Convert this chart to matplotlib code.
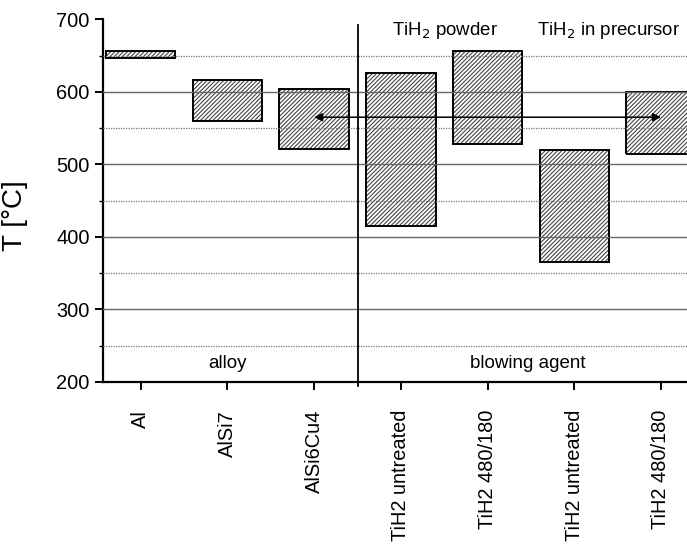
import matplotlib.pyplot as plt
from matplotlib.ticker import MultipleLocator

plt.rcParams['font.family'] = ['Liberation Sans', 'DejaVu Sans']
plt.rcParams['hatch.linewidth'] = 0.8

# temperature windows (lower / upper bound) for each material, in deg C
labels = ['Al', 'AlSi7', 'AlSi6Cu4', 'TiH2 untreated', 'TiH2 480/180',
          'TiH2 untreated', 'TiH2 480/180']
t_low = [646, 560, 521, 415, 528, 365, 514]
t_high = [656, 616, 604, 626, 656, 520, 600]

# foaming-window arrow between AlSi6Cu4 and the treated precursor
arrow_y = 565

fig = plt.figure(figsize=(6.87, 5.46), dpi=100)
ax = fig.add_axes([0.15, 0.3004, 0.85, 0.6643])

x = list(range(1, len(labels) + 1))
heights = [h - l for l, h in zip(t_low, t_high)]

# hatched fill first, then the black outline on top
ax.bar(x, heights, bottom=t_low, width=0.8, color='white',
       edgecolor='#444444', hatch='////////', linewidth=0, zorder=2)
ax.bar(x, heights, bottom=t_low, width=0.8, fill=False,
       edgecolor='black', linewidth=1.4, zorder=3)

# horizontal reference lines
for y in [300, 400, 500, 600]:
    ax.axhline(y, color='#666666', lw=1.0, zorder=4)
for y in [250, 350, 450, 550, 650]:
    ax.axhline(y, color='#777777', lw=0.9, ls=(0, (1, 1)), zorder=4)

# separator between alloys and blowing agents
ax.plot([3.5, 3.5], [195, 692], color='black', lw=1.3, clip_on=False, zorder=5)

ax.annotate('', xy=(3, arrow_y), xytext=(7, arrow_y),
            arrowprops=dict(arrowstyle='<|-|>', color='black', lw=1.1,
                            mutation_scale=12, shrinkA=0, shrinkB=0),
            zorder=6)

ax.text(2.0, 226, 'alloy', ha='center', va='center', fontsize=13.5)
ax.text(5.46, 226, 'blowing agent', ha='center', va='center', fontsize=13.5)
ax.text(4.51, 684, 'TiH$_2$ powder', ha='center', va='center', fontsize=13.4)
ax.text(6.39, 684, 'TiH$_2$ in precursor', ha='center', va='center',
        fontsize=13.4)

ax.set_xlim(0.565, 7.30)
ax.set_ylim(200, 700)
ax.set_xticks(x)
ax.set_xticklabels(labels, rotation=90, fontsize=14.4)
ax.yaxis.set_major_locator(MultipleLocator(100))
ax.yaxis.set_minor_locator(MultipleLocator(50))
ax.tick_params(axis='y', labelsize=14.4, length=6, width=1.4, direction='out')
ax.tick_params(axis='y', which='minor', length=3, width=1.0)
ax.tick_params(axis='x', length=6, width=1.4, direction='out', pad=14)
ax.set_ylabel('T [°C]', fontsize=20)
ax.yaxis.set_label_coords(-0.128, 0.46)

for side in ['top', 'right']:
    ax.spines[side].set_visible(False)
for side in ['left', 'bottom']:
    ax.spines[side].set_linewidth(1.6)

fig.savefig('out.png', dpi=100)
